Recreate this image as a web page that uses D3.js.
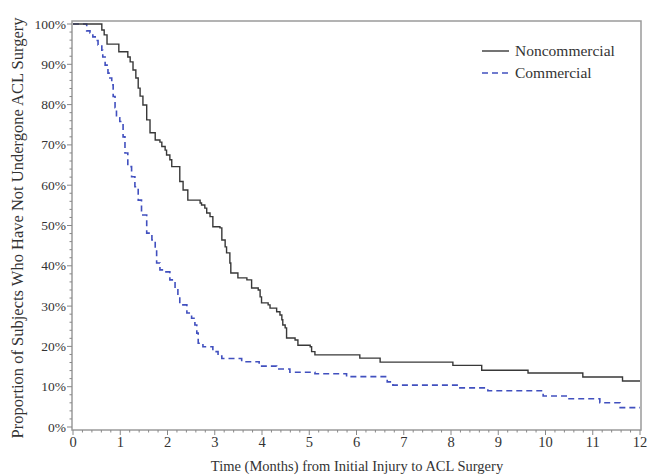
<!DOCTYPE html>
<html>
<head>
<script src="https://d3js.org/d3.v7.min.js"></script>
<style>
  body { margin: 0; background: #fff; }
  text { font-family: "Liberation Serif", "Times New Roman", serif; fill: #333; }
</style>
</head>
<body>
<div id="chart"></div>
<script>
// Kaplan-Meier style step curves (time in months, proportion remaining)
const nonTimes = [0, 0.61, 0.66, 0.72, 0.97, 1.16, 1.21, 1.27, 1.33, 1.38, 1.42, 1.48, 1.56, 1.63, 1.74, 1.84, 1.88, 1.95, 1.98, 2.05, 2.09, 2.26, 2.33, 2.43, 2.69, 2.72, 2.79, 2.83, 2.90, 2.96, 3.11, 3.15, 3.22, 3.25, 3.32, 3.34, 3.49, 3.68, 3.78, 3.92, 3.96, 3.99, 4.13, 4.17, 4.31, 4.38, 4.42, 4.44, 4.49, 4.52, 4.70, 4.76, 5.02, 5.05, 5.12, 6.07, 6.50, 8.04, 8.65, 9.63, 10.79, 11.63, 12];
const nonSurv  = [1.0, 0.985, 0.973, 0.950, 0.931, 0.918, 0.906, 0.886, 0.866, 0.841, 0.821, 0.799, 0.762, 0.730, 0.712, 0.707, 0.696, 0.687, 0.675, 0.663, 0.646, 0.609, 0.588, 0.563, 0.556, 0.551, 0.543, 0.531, 0.522, 0.497, 0.494, 0.464, 0.447, 0.432, 0.407, 0.382, 0.370, 0.365, 0.345, 0.340, 0.323, 0.308, 0.303, 0.295, 0.286, 0.278, 0.266, 0.253, 0.246, 0.221, 0.216, 0.203, 0.199, 0.187, 0.179, 0.171, 0.161, 0.153, 0.141, 0.134, 0.124, 0.114, 0.114];

const comTimes = [0, 0.29, 0.36, 0.42, 0.47, 0.53, 0.61, 0.63, 0.68, 0.74, 0.78, 0.82, 0.85, 0.89, 0.92, 0.99, 1.03, 1.06, 1.10, 1.16, 1.24, 1.31, 1.38, 1.45, 1.56, 1.67, 1.74, 1.77, 1.84, 1.95, 2.05, 2.16, 2.22, 2.26, 2.41, 2.51, 2.58, 2.62, 2.65, 2.75, 2.96, 3.07, 3.15, 3.57, 3.94, 4.31, 4.59, 5.12, 5.79, 6.65, 6.77, 8.15, 8.78, 9.95, 10.48, 11.15, 11.58, 12];
const comSurv  = [1.0, 0.983, 0.978, 0.968, 0.959, 0.948, 0.935, 0.918, 0.898, 0.878, 0.866, 0.849, 0.820, 0.792, 0.767, 0.758, 0.750, 0.720, 0.680, 0.646, 0.621, 0.596, 0.563, 0.526, 0.481, 0.464, 0.439, 0.407, 0.390, 0.385, 0.365, 0.345, 0.323, 0.303, 0.283, 0.270, 0.253, 0.233, 0.208, 0.199, 0.187, 0.176, 0.170, 0.162, 0.151, 0.144, 0.136, 0.132, 0.125, 0.112, 0.104, 0.097, 0.090, 0.077, 0.070, 0.060, 0.048, 0.048];

const xTicks = d3.range(0, 13, 1);
const yTicks = d3.range(0, 1.01, 0.1);
const seriesNames = ["Noncommercial", "Commercial"];

const width = 647, height = 476;
const svg = d3.select("#chart").append("svg")
    .attr("width", width).attr("height", height);

const x = d3.scaleLinear().domain([0, 12]).range([73, 640]);
const y = d3.scaleLinear().domain([0, 1]).range([427, 24]);

// frame
svg.append("rect")
    .attr("x", 72).attr("y", 21)
    .attr("width", 641 - 72).attr("height", 430 - 21)
    .attr("fill", "none").attr("stroke", "#9a9a9a").attr("stroke-width", 1.5);

// x ticks (major + minor)
const gx = svg.append("g");
gx.selectAll("line").data(d3.range(0, 12.01, 0.2)).join("line")
    .attr("x1", d => x(d)).attr("x2", d => x(d))
    .attr("y1", 430).attr("y2", d => Math.abs(d - Math.round(d)) < 1e-6 ? 435 : 432.5)
    .attr("stroke", "#888").attr("stroke-width", 1);
gx.selectAll("text").data(xTicks).join("text")
    .attr("x", d => x(d)).attr("y", 447)
    .attr("text-anchor", "middle")
    .style("font-size", "14.5px")
    .text(d => d);

// y ticks
const gy = svg.append("g");
gy.selectAll("line").data(d3.range(0, 1.001, 0.02)).join("line")
    .attr("y1", d => y(d)).attr("y2", d => y(d))
    .attr("x1", 72).attr("x2", (d, i) => i % 5 === 0 ? 67 : 69.5)
    .attr("stroke", "#888").attr("stroke-width", 1);
gy.selectAll("text").data(yTicks).join("text")
    .attr("x", 66).attr("y", d => y(d) + 4.5)
    .attr("text-anchor", "end")
    .style("font-size", "13.5px")
    .text(d => d3.format(".0%")(d));

// axis titles
svg.append("text")
    .attr("x", 357).attr("y", 471)
    .attr("text-anchor", "middle")
    .style("font-size", "14.5px")
    .text("Time (Months) from Initial Injury to ACL Surgery");
svg.append("text")
    .attr("transform", "translate(23,228) rotate(-90)")
    .attr("text-anchor", "middle")
    .style("font-size", "16.5px")
    .text("Proportion of Subjects Who Have Not Undergone ACL Surgery");

// curves
const line = d3.line()
    .x(d => x(d[0])).y(d => y(d[1]))
    .curve(d3.curveStepAfter);

svg.append("path")
    .datum(d3.zip(comTimes, comSurv))
    .attr("d", line)
    .attr("fill", "none").attr("stroke", "#4150bf")
    .attr("stroke-width", 1.6).attr("stroke-dasharray", "6,4");

svg.append("path")
    .datum(d3.zip(nonTimes, nonSurv))
    .attr("d", line)
    .attr("fill", "none").attr("stroke", "#383838")
    .attr("stroke-width", 1.4);

// legend
const legend = svg.append("g");
const legStyles = [
    { color: "#383838", dash: null, w: 1.4 },
    { color: "#4150bf", dash: "6,4", w: 1.6 }
];
seriesNames.forEach((name, i) => {
    const ly = 51 + i * 22;
    legend.append("line")
        .attr("x1", 482).attr("x2", 509).attr("y1", ly).attr("y2", ly)
        .attr("stroke", legStyles[i].color).attr("stroke-width", legStyles[i].w)
        .attr("stroke-dasharray", legStyles[i].dash);
    legend.append("text")
        .attr("x", 515).attr("y", ly + 5)
        .style("font-size", "15.5px")
        .text(name);
});
</script>
</body>
</html>
